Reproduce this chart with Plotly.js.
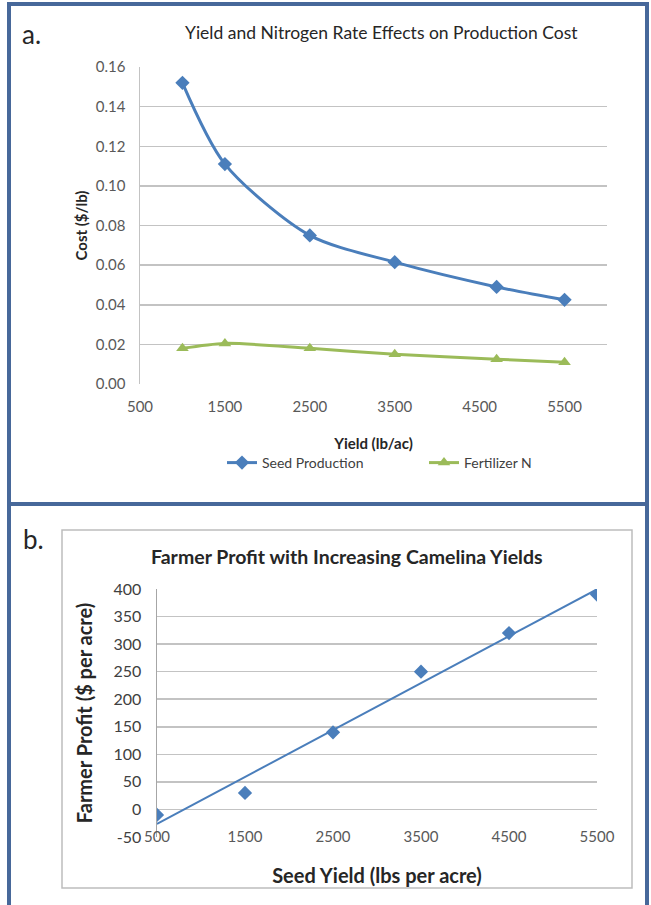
<!DOCTYPE html>
<html>
<head>
<meta charset="utf-8">
<script src="https://cdn.plot.ly/plotly-3.0.1.min.js"></script>
<style>html,body{margin:0;padding:0;background:#fff}#chart{width:651px;height:905px}</style>
</head>
<body>
<div id="chart"></div>
<script>
// ---- Panel a data ----
const yieldA = [1000, 1500, 2500, 3500, 4700, 5500];
const seedProduction = [0.152, 0.111, 0.075, 0.0615, 0.049, 0.0425];
const fertilizerN = [0.018, 0.0205, 0.018, 0.015, 0.0125, 0.011];
const xTicksA = [500, 1500, 2500, 3500, 4500, 5500];
const yTicksA = [0, 0.02, 0.04, 0.06, 0.08, 0.10, 0.12, 0.14, 0.16];

// ---- Panel b data ----
const yieldB = [500, 1500, 2500, 3500, 4500, 5500];
const farmerProfit = [-10, 30, 140, 250, 320, 390];
const xTicksB = [500, 1500, 2500, 3500, 4500, 5500];
const yTicksB = [-50, 0, 50, 100, 150, 200, 250, 300, 350, 400];

// least-squares linear trendline (as Excel)
function linFit(xs, ys) {
  const n = xs.length;
  const mx = xs.reduce((a, b) => a + b, 0) / n;
  const my = ys.reduce((a, b) => a + b, 0) / n;
  let sxy = 0, sxx = 0;
  for (let i = 0; i < n; i++) { sxy += (xs[i] - mx) * (ys[i] - my); sxx += (xs[i] - mx) ** 2; }
  const m = sxy / sxx;
  return { m: m, b: my - m * mx };
}
const fit = linFit(yieldB, farmerProfit);
const trendX = [yieldB[0], yieldB[yieldB.length - 1]];
const trendY = trendX.map(x => fit.m * x + fit.b);

const W = 651, H = 905;
const px = v => v / W, py = v => 1 - v / H;

const FONT = 'Lato, "Open Sans", sans-serif';
const BLUE = '#4a7ebb', GREEN = '#9bbb59', GRID = '#c3c3c3', TICK = '#595959';

const domYB = [py(837), py(589)];
const rangeYB = [-50, 400];
const zeroPos = domYB[0] + (0 - rangeYB[0]) / (rangeYB[1] - rangeYB[0]) * (domYB[1] - domYB[0]);

const traces = [
  { x: yieldA, y: seedProduction, name: 'Seed Production', type: 'scatter', mode: 'lines+markers',
    line: { color: BLUE, width: 3, shape: 'spline', smoothing: 0.8 },
    marker: { symbol: 'diamond', size: 11, color: BLUE }, xaxis: 'x', yaxis: 'y' },
  { x: yieldA, y: fertilizerN, name: 'Fertilizer N', type: 'scatter', mode: 'lines+markers',
    line: { color: GREEN, width: 3, shape: 'spline', smoothing: 0.8 },
    marker: { symbol: 'triangle-up', size: 11, color: GREEN }, xaxis: 'x', yaxis: 'y' },
  { x: yieldB, y: farmerProfit, name: 'Farmer Profit', type: 'scatter', mode: 'markers',
    marker: { symbol: 'diamond', size: 11, color: BLUE }, xaxis: 'x2', yaxis: 'y2', showlegend: false },
  { x: trendX, y: trendY, name: 'Linear trend', type: 'scatter', mode: 'lines',
    line: { color: BLUE, width: 2 }, xaxis: 'x2', yaxis: 'y2', showlegend: false, hoverinfo: 'skip' }
];

const layout = {
  width: W, height: H,
  margin: { l: 0, r: 0, t: 0, b: 0 },
  paper_bgcolor: '#ffffff', plot_bgcolor: 'rgba(0,0,0,0)',
  font: { family: FONT, color: TICK, size: 13 },
  showlegend: true,
  legend: { orientation: 'h', x: px(222), xanchor: 'left', y: py(463), yanchor: 'middle',
    font: { family: FONT, size: 14, color: '#404040' }, bgcolor: 'rgba(0,0,0,0)', entrywidth: 157, entrywidthmode: 'pixels' },
  xaxis: {
    domain: [px(140), px(607)], anchor: 'y', range: [500, 6000],
    tickmode: 'array', tickvals: xTicksA, ticktext: xTicksA.map(String),
    showgrid: false, zeroline: false, showline: false, ticks: '',
    ticklabelstandoff: 12,
    tickfont: { family: FONT, size: 15, color: TICK },
    title: { text: '<b>Yield (lb/ac)</b>', font: { family: FONT, size: 15, color: '#262626' }, standoff: 24 }
  },
  yaxis: {
    domain: [py(384), py(67)], anchor: 'x', range: [0, 0.16],
    tickmode: 'array', tickvals: yTicksA, ticktext: yTicksA.map(v => v.toFixed(2)),
    showgrid: true, gridcolor: GRID, gridwidth: 1.5, zeroline: false,
    showline: true, linecolor: GRID, linewidth: 1.5, ticks: '',
    ticklabelstandoff: 10,
    tickfont: { family: FONT, size: 15, color: TICK },
    title: { text: '<b>Cost ($/lb)</b>', font: { family: FONT, size: 15, color: '#262626' }, standoff: 4 }
  },
  xaxis2: {
    domain: [px(157), px(597)], anchor: 'free', position: py(826), range: [500, 5500],
    tickmode: 'array', tickvals: xTicksB, ticktext: xTicksB.map(String),
    showgrid: false, zeroline: false, showline: false, ticks: '',
    tickfont: { family: FONT, size: 15, color: TICK },
    title: { text: '<b>Seed Yield (lbs per acre)</b>', font: { family: FONT, size: 20, color: '#262626' }, standoff: 24 }
  },
  xaxis3: {
    domain: [px(157), px(597)], anchor: 'free', position: zeroPos, matches: 'x2', overlaying: 'x2',
    tickmode: 'array', tickvals: xTicksB, showticklabels: false,
    showgrid: false, zeroline: false, showline: true, linecolor: '#a6a6a6', linewidth: 1.5,
    ticks: 'inside', ticklen: 4, tickcolor: '#a6a6a6'
  },
  yaxis2: {
    domain: domYB, anchor: 'x2', range: rangeYB,
    tickmode: 'array', tickvals: yTicksB, ticktext: yTicksB.map(String),
    showgrid: true, gridcolor: GRID, gridwidth: 1.5, zeroline: false,
    showline: true, linecolor: '#a6a6a6', linewidth: 1.5, ticks: '',
    ticklabelstandoff: 11,
    tickfont: { family: FONT, size: 16, color: '#404040' },
    title: { text: '<b>Farmer Profit ($ per acre)</b>', font: { family: FONT, size: 20, color: '#262626' }, standoff: 15 }
  },
  annotations: [
    { text: 'a.', xref: 'paper', yref: 'paper', x: px(20), y: py(34), xanchor: 'left', yanchor: 'middle',
      showarrow: false, font: { family: FONT, size: 26, color: '#262626' } },
    { text: 'Yield and Nitrogen Rate Effects on Production Cost', xref: 'paper', yref: 'paper',
      x: px(381), y: py(33), xanchor: 'center', yanchor: 'middle', showarrow: false,
      font: { family: FONT, size: 17.5, color: '#262626' } },
    { text: 'b.', xref: 'paper', yref: 'paper', x: px(21), y: py(539), xanchor: 'left', yanchor: 'middle',
      showarrow: false, font: { family: FONT, size: 26, color: '#262626' } },
    { text: '<b>Farmer Profit with Increasing Camelina Yields</b>', xref: 'paper', yref: 'paper',
      x: px(347), y: py(556), xanchor: 'center', yanchor: 'middle', showarrow: false,
      font: { family: FONT, size: 19.5, color: '#262626' } }
  ],
  shapes: [
    { type: 'rect', xref: 'paper', yref: 'paper', x0: px(9), x1: px(647), y0: py(910), y1: py(4),
      line: { color: '#47689a', width: 4 }, layer: 'above' },
    { type: 'line', xref: 'paper', yref: 'paper', x0: px(9), x1: px(647), y0: py(504), y1: py(504),
      line: { color: '#47689a', width: 4 }, layer: 'above' },
    { type: 'rect', xref: 'paper', yref: 'paper', x0: px(62), x1: px(632), y0: py(888), y1: py(530),
      line: { color: '#bdbdbd', width: 1.5 }, layer: 'below' }
  ]
};

Plotly.newPlot('chart', traces, layout, { displayModeBar: false, staticPlot: true });
</script>
</body>
</html>
